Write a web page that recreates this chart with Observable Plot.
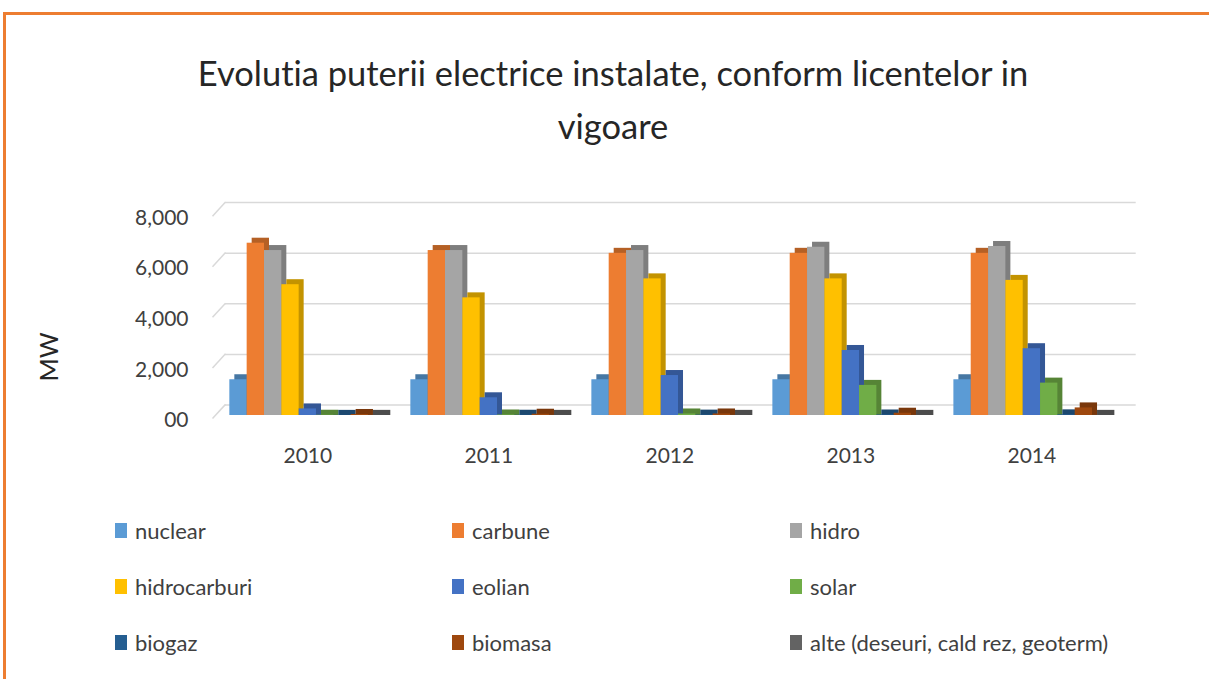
<!DOCTYPE html>
<html>
<head>
<meta charset="utf-8">
<script src="https://cdn.jsdelivr.net/npm/d3@7"></script>
<script src="https://cdn.jsdelivr.net/npm/@observablehq/plot@0.6"></script>
<style>
  body { margin: 0; background: #fff; font-family: Lato, "Open Sans", sans-serif; font-variant-ligatures: none; }
  #page { position: relative; width: 1209px; height: 679px; overflow: hidden; }
  #frame { position: absolute; left: 3px; top: 12px; width: 1220px; height: 680px;
           border-top: 3px solid #ED7D31; border-left: 3px solid #ED7D31; pointer-events: none; }
  #title { height: 160px; box-sizing: border-box; padding-top: 46px; padding-left: 17px;
           text-align: center; font-size: 34.5px; line-height: 53px; color: #262626; font-variant-ligatures: none; }
  #ylabel { position: absolute; left: 48px; top: 357px; transform: translate(-50%, -50%) rotate(-90deg);
            font-size: 25px; color: #262626; white-space: nowrap; }
  #legend { position: relative; height: 179px; }
  .item { position: absolute; display: flex; align-items: center; font-size: 22px; color: #404040; height: 30px; white-space: nowrap; }
  .sw { width: 12px; height: 15px; margin-right: 8px; }
  svg { display: block; }
</style>
</head>
<body>
<div id="page">
  <div id="title">Evolutia puterii electrice instalate, conform licentelor in<br>vigoare</div>
  <div id="chart"></div>
  <div id="legend"></div>
  <div id="ylabel">MW</div>
  <div id="frame"></div>
</div>
<script>
const years = [2010, 2011, 2012, 2013, 2014];
const types = ["nuclear", "carbune", "hidro", "hidrocarburi", "eolian", "solar", "biogaz", "biomasa", "alte (deseuri, cald rez, geoterm)"];
const colors = ["#5B9BD5", "#ED7D31", "#A5A5A5", "#FFC000", "#4472C4", "#70AD47", "#255E91", "#9E480E", "#636363"];

const nuclear      = [1413, 1413, 1413, 1413, 1413];
const carbune      = [6810, 6520, 6410, 6410, 6410];
const hidro        = [6520, 6520, 6520, 6650, 6680];
const hidrocarburi = [5170, 4650, 5400, 5400, 5340];
const eolian       = [260, 700, 1580, 2570, 2640];
const solar        = [10, 20, 60, 1190, 1280];
const biogaz       = [5, 10, 15, 20, 25];
const biomasa      = [40, 50, 60, 90, 300];
const alte         = [5, 5, 5, 5, 5];
const series = [nuclear, carbune, hidro, hidrocarburi, eolian, solar, biogaz, biomasa, alte];

const yTicks = [0, 2000, 4000, 6000, 8000];
const yTickLabels = ["00", "2,000", "4,000", "6,000", "8,000"];

// layout constants (bar units)
const groupStep = 10.445;   // distance between year groups, in bar widths
const wallDepth = 560;      // back-wall offset expressed in MW for the diagonal

const rows = [];
years.forEach((yr, gi) => {
  types.forEach((t, ti) => {
    rows.push({ year: yr, type: t, ti, gi, value: series[ti][gi] });
  });
});
const x1 = d => d.gi * groupStep + d.ti;
const x2 = d => d.gi * groupStep + d.ti + 1;
const centers = years.map((y, i) => i * groupStep + types.length / 2);

const shadows = types.map((t, ti) =>
  Plot.rect(rows.filter(d => d.ti === ti), {
    x1, x2, y1: 0, y2: "value", dx: 5, insetTop: -5,
    fill: d3.color(colors[ti]).darker(0.75).formatHex()
  })
);
const fronts = types.map((t, ti) =>
  Plot.rect(rows.filter(d => d.ti === ti), {
    x1, x2, y1: 0, y2: "value", fill: colors[ti]
  })
);

const chart = Plot.plot({
  width: 1209,
  height: 340,
  marginLeft: 212,
  marginRight: 78.5,
  marginTop: 52.6,
  marginBottom: 85,
  style: { fontFamily: "Lato, 'Open Sans', sans-serif", background: "transparent" },
  x: { type: "linear", domain: [-1, 52], axis: null },
  y: { domain: [0, 8000], axis: null },
  marks: [
    Plot.ruleY(yTicks, { y: d => d, x1: -0.25, x2: 52.3, dy: -10.5, stroke: "#d9d9d9", strokeWidth: 1.5 }),
    Plot.link(yTicks, { x1: -1, x2: -0.25, y1: d => d - 120, y2: d => d + wallDepth - 120, stroke: "#d9d9d9", strokeWidth: 1.5 }),
    ...shadows,
    ...fronts,
    Plot.axisY({ ticks: yTicks, tickFormat: d => yTickLabels[yTicks.indexOf(d)], tickSize: 0, tickPadding: 24, dy: 5, fontSize: 21, fill: "#404040", label: null }),
    Plot.axisX({ ticks: centers, tickFormat: d => String(years[centers.indexOf(d)]), tickSize: 0, tickPadding: 33, fontSize: 21, fill: "#404040", label: null })
  ]
});
document.getElementById("chart").appendChild(chart);

// legend
const legend = document.getElementById("legend");
const colLeft = [115, 452, 790];
const rowCenter = [30, 86, 142];
types.forEach((t, i) => {
  const el = document.createElement("div");
  el.className = "item";
  el.style.left = colLeft[i % 3] + "px";
  el.style.top = (rowCenter[Math.floor(i / 3)] - 15) + "px";
  const sw = document.createElement("span");
  sw.className = "sw";
  sw.style.background = colors[i];
  const tx = document.createElement("span");
  tx.textContent = t;
  el.appendChild(sw);
  el.appendChild(tx);
  legend.appendChild(el);
});
</script>
</body>
</html>
